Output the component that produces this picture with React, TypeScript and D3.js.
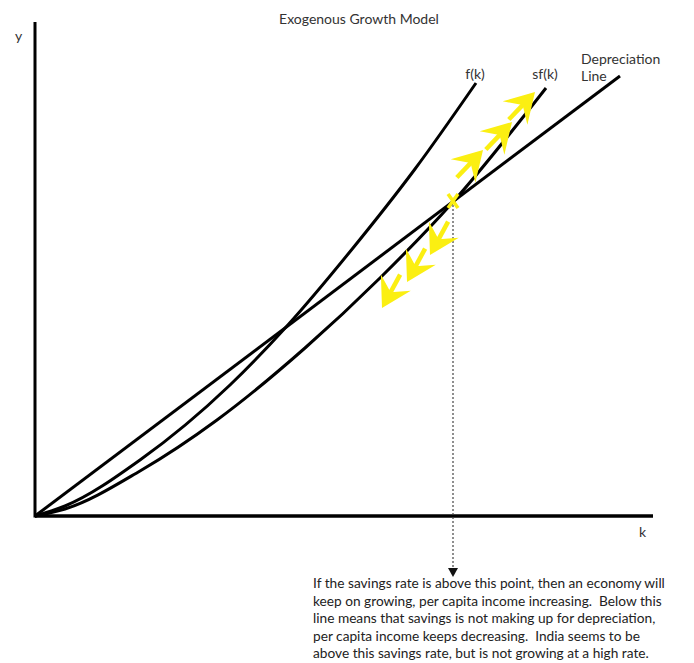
import React from "react";
import * as d3 from "d3";

// Curve points (k, y) in chart units
const fK: [number, number][] = [
  [0, 0], [30, 10], [105, 56], [195, 131], [252, 190], [318, 268], [380, 347], [441, 433],
];
const sfK: [number, number][] = [
  [0, 0], [30, 7], [105, 45], [182, 96], [270, 168], [345, 238], [418, 314], [511, 428],
];
const depreciation: [number, number][] = [
  [0, 0], [585, 440],
];
// steady state (sf(k) = depreciation)
const steadyState: [number, number] = [418, 315];
const dottedBottom = -61;
// yellow arrow tips
const upArrowTips: [number, number][] = [[448, 366], [477, 394], [500, 424]];
const downArrowTips: [number, number][] = [[395, 261], [372, 234], [347, 208]];

const noteLines = [
  "If the savings rate is above this point, then an economy will",
  "keep on growing, per capita income increasing.  Below this",
  "line means that savings is not making up for depreciation,",
  "per capita income keeps decreasing.  India seems to be",
  "above this savings rate, but is not growing at a high rate.",
];

const W = 694, H = 663;
const FONT = "Lato, 'Open Sans', sans-serif";
const YELLOW = "#fbef12";

export default function App() {
  const x = d3.scaleLinear().domain([0, 618]).range([35, 653]);
  const y = d3.scaleLinear().domain([0, 494]).range([516, 22]);
  const line = d3
    .line<[number, number]>()
    .x((d) => x(d[0]))
    .y((d) => y(d[1]))
    .curve(d3.curveMonotoneX);

  const head = "M0,0 L-29,-17 L-18,0 L-29,17 Z";
  const arrow = (t: [number, number], ang: number, key: string) => (
    <g key={key} transform={`translate(${x(t[0])},${y(t[1])}) rotate(${ang})`}>
      <line x1={-17} y1={0} x2={-38} y2={0} stroke={YELLOW} strokeWidth={4.5} />
      <path d={head} fill={YELLOW} />
    </g>
  );

  const sx = x(steadyState[0]);
  const sy = y(steadyState[1]);

  return (
    <svg
      width={W}
      height={H}
      style={{ position: "absolute", left: 0, top: 0, background: "#fff" }}
      fontFamily={FONT}
    >
      <rect width={W} height={H} fill="#fff" />
      <text x={359} y={24} fontSize={14} textAnchor="middle" fill="#333">
        Exogenous Growth Model
      </text>

      {/* axes */}
      <line x1={x(0)} y1={y(494)} x2={x(0)} y2={y(0) + 1.5} stroke="#000" strokeWidth={3} />
      <line x1={x(0)} y1={y(0)} x2={x(618)} y2={y(0)} stroke="#000" strokeWidth={3.5} />
      <text x={15} y={41} fontSize={14} fill="#333">y</text>
      <text x={639} y={537} fontSize={14} fill="#333">k</text>

      {/* dotted guide */}
      <line
        x1={sx}
        y1={sy + 4}
        x2={sx}
        y2={y(dottedBottom) - 7}
        stroke="#444"
        strokeWidth={1.2}
        strokeDasharray="2 2"
      />
      <path
        d={`M${sx - 5},${y(dottedBottom) - 9} L${sx + 5},${y(dottedBottom) - 9} L${sx},${y(dottedBottom)} Z`}
        fill="#111"
      />

      {/* curves */}
      <path d={line(depreciation) || ""} fill="none" stroke="#000" strokeWidth={3} />
      <path d={line(fK) || ""} fill="none" stroke="#000" strokeWidth={3} />
      <path d={line(sfK) || ""} fill="none" stroke="#000" strokeWidth={3} />

      {/* curve labels */}
      <text x={475} y={79} fontSize={14} textAnchor="middle" fill="#333">f(k)</text>
      <text x={545} y={79} fontSize={14} textAnchor="middle" fill="#333">sf(k)</text>
      <text x={581} y={64} fontSize={14} fill="#333">Depreciation</text>
      <text x={581} y={81} fontSize={14} fill="#333">Line</text>

      {/* yellow arrows */}
      {upArrowTips.map((t, i) => arrow(t, -46.5, "u" + i))}
      {downArrowTips.map((t, i) => arrow(t, 118.5, "d" + i))}
      <g stroke={YELLOW} strokeWidth={3.5}>
        <line x1={sx - 5} y1={sy - 7} x2={sx + 5} y2={sy + 7} />
        <line x1={sx + 5} y1={sy - 7} x2={sx - 5} y2={sy + 7} />
      </g>

      {/* note */}
      <g fontSize={13.7} fill="#222" style={{ whiteSpace: "pre" }}>
        {noteLines.map((t, i) => (
          <text key={i} x={313} y={588 + i * 17.6} xmlSpace="preserve">
            {t}
          </text>
        ))}
      </g>
    </svg>
  );
}
